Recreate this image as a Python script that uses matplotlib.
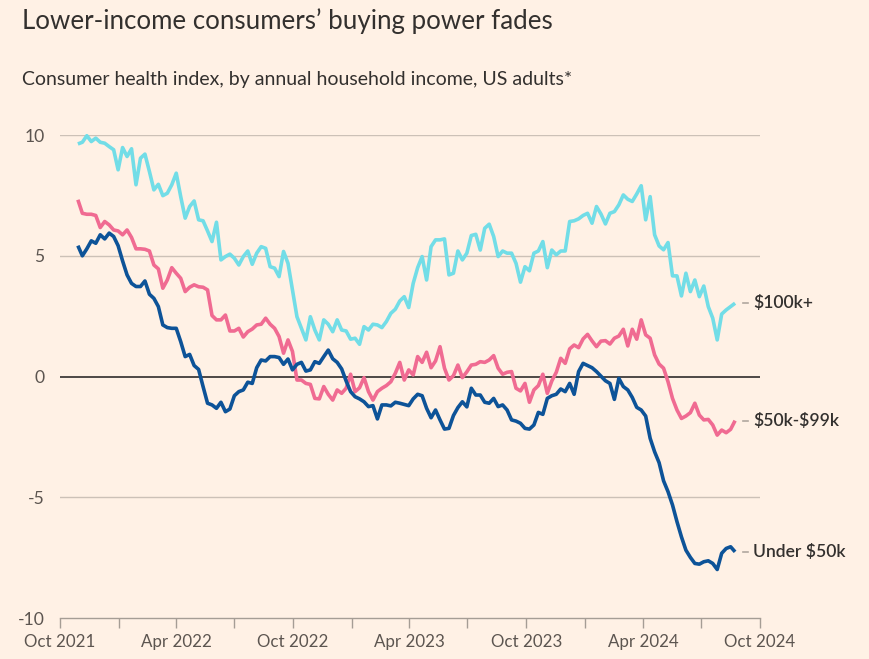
import matplotlib
matplotlib.use("Agg")
import matplotlib.pyplot as plt
import matplotlib.dates as mdates
import matplotlib.transforms as mtransforms
import numpy as np
import pandas as pd

plt.rcParams['font.family'] = ['Lato', 'DejaVu Sans']

# ---------------- data (weekly) ----------------
start_date = "2021-10-29"
n_weeks = 148
dates = pd.date_range(start_date, periods=n_weeks, freq="7D")

over_100k = [
    9.63, 9.70, 9.97, 9.73, 9.87, 9.70, 9.66, 9.52, 9.39, 8.56,
    9.48, 9.11, 9.43, 7.94, 9.04, 9.21, 8.49, 7.73, 7.96, 7.49,
    7.59, 7.94, 8.42, 7.45, 6.56, 7.04, 7.27, 6.49, 6.45, 6.03,
    5.59, 6.39, 4.83, 4.97, 5.07, 4.90, 4.62, 4.97, 5.20, 4.65,
    5.11, 5.38, 5.31, 4.55, 4.49, 4.14, 5.18, 4.69, 3.59, 2.48,
    2.00, 1.52, 2.48, 1.93, 1.52, 2.35, 2.17, 1.86, 2.35, 1.93,
    1.89, 1.55, 1.59, 1.34, 2.07, 1.93, 2.17, 2.14, 2.03, 2.28,
    2.62, 2.79, 3.13, 3.31, 2.86, 3.86, 4.51, 4.97, 4.00, 5.38,
    5.66, 5.66, 5.70, 4.21, 4.28, 5.20, 4.83, 5.11, 5.84, 5.89,
    5.24, 6.14, 6.31, 5.80, 4.97, 5.20, 5.11, 5.11, 4.69, 3.91,
    4.55, 4.38, 5.11, 5.20, 5.59, 4.51, 5.24, 5.04, 5.20, 5.20,
    6.42, 6.45, 6.53, 6.67, 6.76, 6.35, 7.04, 6.73, 6.32, 6.76,
    6.83, 7.11, 7.52, 7.34, 7.25, 7.56, 7.90, 6.49, 7.45, 5.87,
    5.41, 5.25, 5.55, 4.17, 4.17, 3.34, 4.28, 3.52, 4.00, 3.31,
    3.75, 2.90, 2.42, 1.52, 2.59, 2.76, 2.90, 3.04,
]

mid_50k_99k = [
    7.32, 6.76, 6.72, 6.72, 6.67, 6.17, 6.42, 6.28, 6.07, 6.03,
    5.87, 6.07, 5.76, 5.29, 5.29, 5.27, 5.20, 4.62, 4.46, 3.66,
    4.00, 4.51, 4.28, 4.07, 3.52, 3.70, 3.80, 3.72, 3.70, 3.59,
    2.53, 2.35, 2.35, 2.55, 1.89, 1.89, 2.00, 1.64, 1.86, 1.97,
    2.14, 2.17, 2.42, 2.17, 2.00, 1.66, 0.97, 1.52, 1.04, -0.14,
    -0.14, -0.28, -0.32, -0.90, -0.92, -0.41, -0.73, -0.97, -0.55, -0.69,
    -0.48, 0.10, -0.62, -0.46, -0.04, -0.62, -0.97, -0.62, -0.48, -0.37,
    -0.21, 0.14, 0.59, -0.14, 0.28, 0.07, 0.83, 0.59, 1.01, 0.37,
    0.65, 1.24, 0.35, -0.14, 0.04, 0.48, -0.04, 0.20, 0.48, 0.51,
    0.62, 0.59, 0.69, 0.87, 0.35, 0.10, 0.18, 0.21, -0.48, -0.59,
    -0.28, -1.06, -0.55, -0.37, 0.10, -0.69, -0.18, 0.18, 0.76, 0.55,
    1.15, 1.31, 1.20, 1.56, 1.75, 1.48, 1.24, 1.47, 1.49, 1.35,
    1.59, 1.68, 1.96, 1.27, 1.96, 1.55, 2.35, 1.73, 1.59, 0.90,
    0.52, 0.35, -0.21, -0.90, -1.38, -1.73, -1.63, -1.49, -1.10, -1.59,
    -1.79, -1.77, -2.00, -2.42, -2.21, -2.32, -2.18, -1.82,
]

under_50k = [
    5.42, 5.00, 5.29, 5.62, 5.52, 5.87, 5.70, 5.94, 5.80, 5.42,
    4.79, 4.21, 3.86, 3.73, 3.73, 3.96, 3.41, 3.24, 2.90, 2.14,
    2.03, 2.00, 2.00, 1.45, 0.83, 0.92, 0.46, 0.30, -0.41, -1.10,
    -1.17, -1.31, -1.06, -1.45, -1.34, -0.79, -0.62, -0.55, -0.23, -0.28,
    0.37, 0.69, 0.65, 0.83, 0.83, 0.79, 0.51, 0.73, 0.28, 0.51,
    0.59, 0.23, 0.28, 0.62, 0.55, 0.83, 1.10, 0.74, 0.59, 0.32,
    -0.18, -0.62, -0.83, -0.92, -1.04, -1.24, -1.20, -1.75, -1.17, -1.17,
    -1.21, -1.06, -1.10, -1.15, -1.20, -0.92, -0.73, -0.79, -1.31, -1.70,
    -1.38, -1.79, -2.17, -2.14, -1.61, -1.28, -1.04, -1.25, -0.48, -0.76,
    -0.76, -1.06, -1.10, -0.90, -1.24, -1.17, -1.38, -1.79, -1.84, -1.93,
    -2.14, -2.17, -2.00, -1.48, -1.56, -0.90, -0.79, -0.73, -0.51, -0.62,
    -0.28, -0.73, 0.21, 0.55, 0.46, 0.37, 0.21, 0.02, -0.17, -0.28,
    -0.94, -0.07, -0.41, -0.55, -0.86, -1.27, -1.38, -1.63, -2.55, -3.11,
    -3.56, -4.31, -4.76, -5.31, -6.00, -6.63, -7.18, -7.48, -7.73, -7.76,
    -7.66, -7.62, -7.73, -7.98, -7.31, -7.11, -7.04, -7.25,
]

series_names = ["$100k+", "$50k-$99k", "Under $50k"]
series_values = [over_100k, mid_50k_99k, under_50k]
series_colors = ["#72dde7", "#f06b92", "#0d5398"]

y_ticks = [-10, -5, 0, 5, 10]
y_tick_labels = ["-10", "-5", "0", "5", "10"]

title = "Lower-income consumers\u2019 buying power fades"
subtitle = "Consumer health index, by annual household income, US adults*"

# ---------------- figure ----------------
BG = "#fff1e5"
TEXT = "#33302e"
W, H = 869, 659
fig = plt.figure(figsize=(W / 100, H / 100), dpi=100, facecolor=BG)

ax_left, ax_right, ax_top, ax_bottom = 60, 760, 135, 618.3
ax = fig.add_axes([ax_left / W, 1 - ax_bottom / H,
                   (ax_right - ax_left) / W, (ax_bottom - ax_top) / H])
ax.set_facecolor(BG)

# grid
for yv in y_ticks:
    if yv == 0:
        ax.axhline(0, color="#4d4845", lw=1.4, zorder=2)
    elif yv == -10:
        continue
    else:
        ax.axhline(yv, color="#ccc1b7", lw=1.0, zorder=1)

for vals, col in zip(series_values, series_colors):
    ax.plot(dates, vals, color=col, lw=2.6, solid_joinstyle="round",
            solid_capstyle="butt", zorder=3, clip_on=False)

ax.set_ylim(-10, 10)
ax.set_xlim(pd.Timestamp("2021-10-01"), pd.Timestamp("2024-10-01"))

for s in ["top", "right", "left"]:
    ax.spines[s].set_visible(False)
ax.spines["bottom"].set_color("#a59d95")
ax.spines["bottom"].set_linewidth(1.0)

ax.set_yticks(y_ticks)
ax.set_yticklabels(y_tick_labels)
ax.tick_params(axis="y", length=0, pad=11.2, labelsize=12.6, labelcolor="#5c5550")

ax.xaxis.set_major_locator(mdates.MonthLocator(bymonth=[4, 10]))
ax.xaxis.set_minor_locator(mdates.MonthLocator(bymonth=[1, 7]))
ax.xaxis.set_major_formatter(mdates.DateFormatter("%b %Y"))
ax.tick_params(axis="x", which="both", length=7.2, width=1.0, color="#a59d95",
               direction="out")
ax.tick_params(axis="x", which="major", pad=4.0, labelsize=12.2, labelcolor="#5c5550")

# end labels
trans = mtransforms.blended_transform_factory(ax.transAxes, ax.transData)
for name, vals in zip(series_names, series_values):
    yv = vals[-1]
    ax.plot([0.9757, 0.983], [yv, yv], transform=trans, color="#b0a79f",
            lw=1.2, clip_on=False)
    ax.text(0.99, yv, name.replace("$", r"\$"), transform=trans, ha="left",
            va="center", fontsize=12.6, color=TEXT, fontweight="semibold")

fig.text(22 / W, 1 - 29.5 / H, title, ha="left", va="baseline",
         fontsize=18.6, color=TEXT)
fig.text(22 / W, 1 - 85 / H, subtitle, ha="left", va="baseline",
         fontsize=14.0, color=TEXT)

fig.savefig("out.png", dpi=100, facecolor=BG)
